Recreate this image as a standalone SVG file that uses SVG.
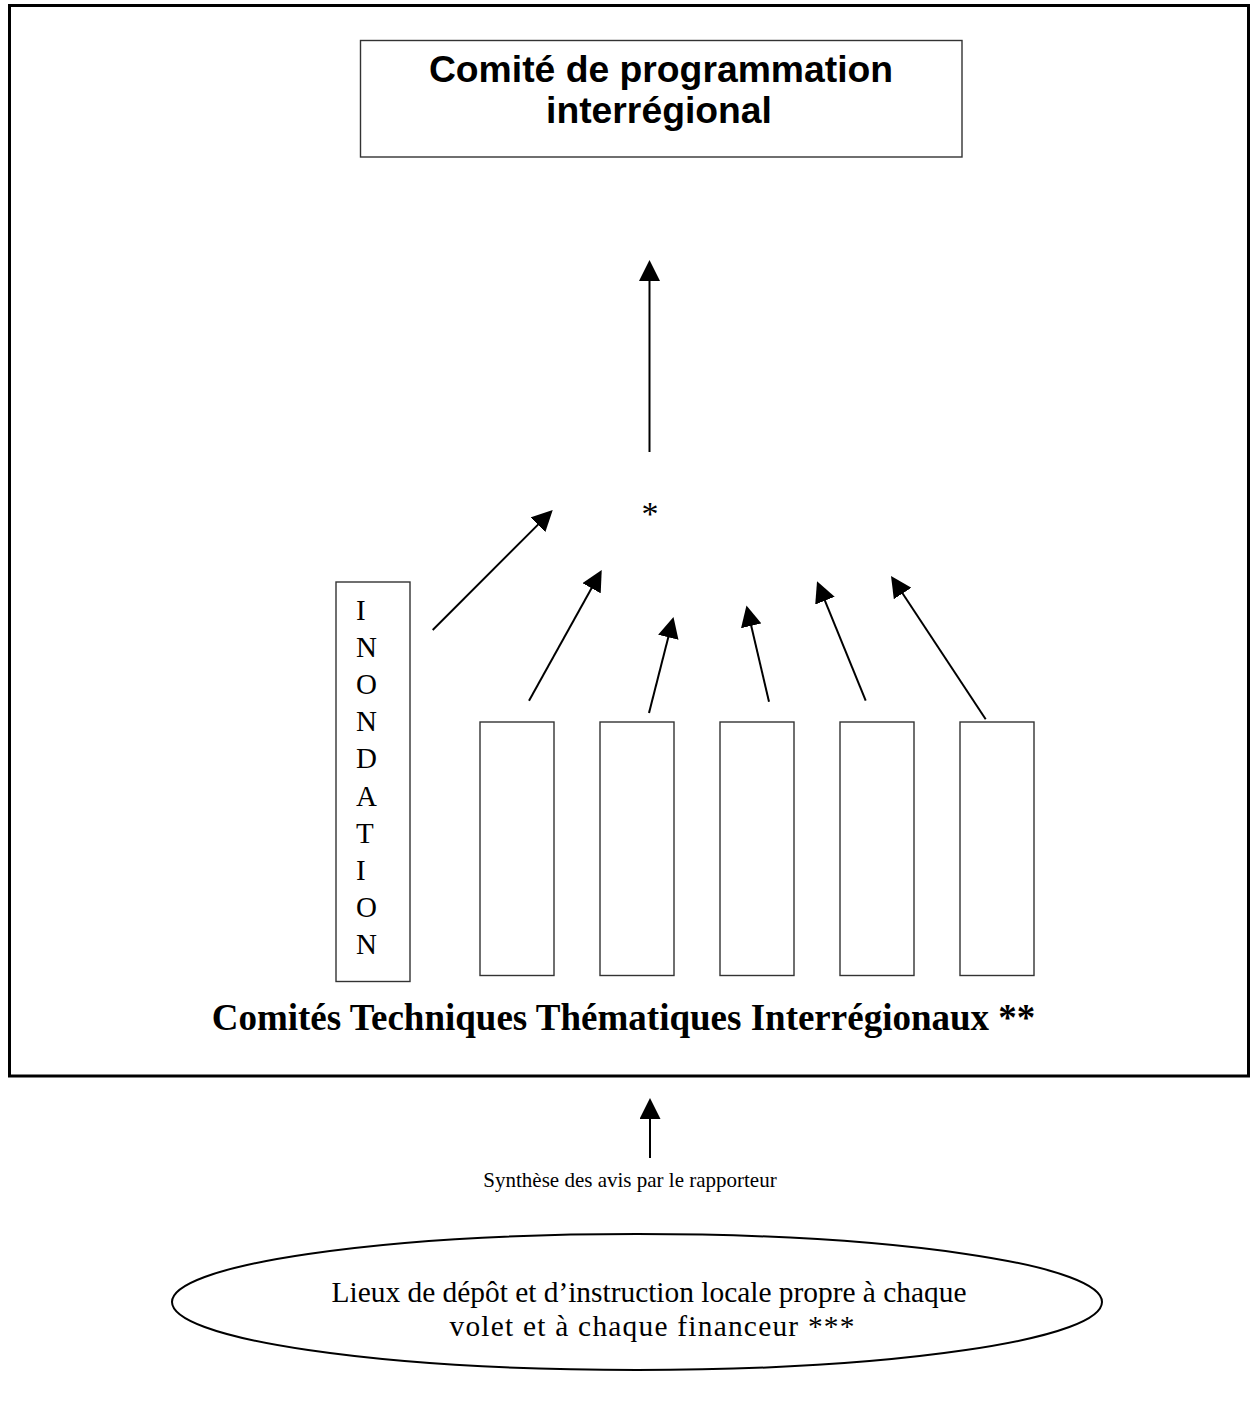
<svg xmlns="http://www.w3.org/2000/svg" width="1250" height="1409" viewBox="0 0 1250 1409">
<style>
.box{fill:#fff;stroke:#333;stroke-width:1.4}
.frame{fill:none;stroke:#000;stroke-width:3}
.arr{fill:none;stroke:#000;stroke-width:2}
.ser{font-family:"Liberation Serif","Times New Roman",serif;fill:#000}
.sans{font-family:"Liberation Sans",Arial,sans-serif;font-weight:bold;fill:#000}
</style>
<defs>
<marker id="ah" markerUnits="userSpaceOnUse" markerWidth="21" markerHeight="21" refX="2" refY="10.5" orient="auto" viewBox="0 0 21 21">
<path d="M0,0 L21,10.5 L0,21 z" fill="#000"/>
</marker>
</defs>
<rect width="1250" height="1409" fill="#fff"/>
<g id="frame"><rect class="frame" x="9.5" y="5.5" width="1239" height="1070.5"/></g>
<g id="comite-programmation">
<rect class="box" x="360.5" y="40.5" width="601.5" height="116.5"/>
<text class="sans" x="661" y="82" font-size="37.3" text-anchor="middle">Comité de programmation</text>
<text class="sans" x="659" y="123" font-size="37.3" text-anchor="middle">interrégional</text>
</g>
<g id="asterisk"><text class="ser" x="650" y="525" font-size="34" text-anchor="middle">*</text></g>
<g id="inondation">
<rect class="box" x="336" y="582" width="74" height="399.5"/>
<g class="ser" font-size="29">
<text x="356" y="620">I</text>
<text x="356" y="657.1">N</text>
<text x="356" y="694.2">O</text>
<text x="356" y="731.3">N</text>
<text x="356" y="768.4">D</text>
<text x="356" y="805.5">A</text>
<text x="356" y="842.6">T</text>
<text x="356" y="879.7">I</text>
<text x="356" y="916.8">O</text>
<text x="356" y="953.9">N</text>
</g>
</g>
<g id="cti1"><rect class="box" x="480" y="722" width="74" height="253.5"/></g>
<g id="cti2"><rect class="box" x="600" y="722" width="74" height="253.5"/></g>
<g id="cti3"><rect class="box" x="720" y="722" width="74" height="253.5"/></g>
<g id="cti4"><rect class="box" x="840" y="722" width="74" height="253.5"/></g>
<g id="cti5"><rect class="box" x="960" y="722" width="74" height="253.5"/></g>
<g id="label-cti"><text class="ser" x="623.5" y="1030" font-size="37" font-weight="bold" text-anchor="middle">Comités Techniques Thématiques Interrégionaux **</text></g>
<g id="synthese"><text class="ser" x="630" y="1187" font-size="21" text-anchor="middle">Synthèse des avis par le rapporteur</text></g>
<g id="lieux">
<ellipse cx="637" cy="1302" rx="465" ry="68" fill="#fff" stroke="#000" stroke-width="2"/>
<text class="ser" x="649" y="1302" font-size="29.4" text-anchor="middle">Lieux de dépôt et d’instruction locale propre à chaque</text>
<text class="ser" x="652" y="1336" font-size="29.4" text-anchor="middle" textLength="405" lengthAdjust="spacing">volet et à chaque financeur ***</text>
</g>
<g id="connectors">
<path class="arr" d="M649.5,452 L649.5,279" marker-end="url(#ah)"/>
<path class="arr" d="M432.7,630 L539.3,523.4" marker-end="url(#ah)"/>
<path class="arr" d="M529,700.7 L592.5,586.5" marker-end="url(#ah)"/>
<path class="arr" d="M649,713 L668.8,635.3" marker-end="url(#ah)"/>
<path class="arr" d="M769,701.7 L750.8,623.9" marker-end="url(#ah)"/>
<path class="arr" d="M865.7,700.7 L824.2,598.8" marker-end="url(#ah)"/>
<path class="arr" d="M985.7,719.3 L901.5,591.8" marker-end="url(#ah)"/>
<path class="arr" d="M650,1158 L650,1117" marker-end="url(#ah)"/>
</g>
</svg>
